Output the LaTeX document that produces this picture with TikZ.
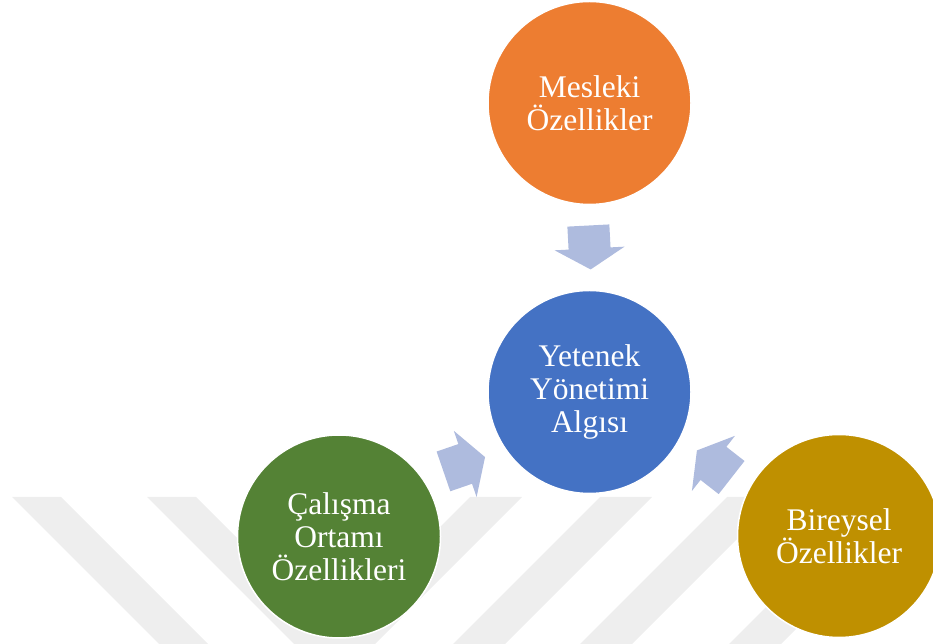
\documentclass[tikz,border=0pt]{standalone}
\usepackage{fontspec}
\setmainfont{Liberation Serif}
\usetikzlibrary{calc}
\definecolor{cOrange}{HTML}{ED7D31}
\definecolor{cBlue}{HTML}{4472C4}
\definecolor{cGreen}{HTML}{548235}
\definecolor{cGold}{HTML}{BF9000}
\definecolor{cArrow}{HTML}{AEBBDE}
\definecolor{cStripe}{HTML}{EEEEEE}
\begin{document}
\begin{tikzpicture}[x=1pt,y=1pt,
  circ/.style={circle, minimum size=203pt, inner sep=0pt, draw=white, line width=1.5pt,
    text=white, align=center, font=\fontsize{31.5}{33}\selectfont},
  stripe/.style={fill=cStripe},
  blockarrow/.style={fill=cArrow}]
\useasboundingbox (0,0) rectangle (933,644);
\clip (0,0) rectangle (933,644);
% watermark stripes
\foreach \a in {12,147}{
  \fill[stripe] (\a,147) -- ++(49,0) -- ++(200,-200) -- ++(-49,0) -- cycle;}
\foreach \a in {470,600,727,876}{
  \fill[stripe] (\a,147) -- ++(52,0) -- ++(-200,-200) -- ++(-52,0) -- cycle;}
% circles
\node[circ, fill=cOrange] (mes) at (589.5,541) {Mesleki\\Özellikler};
\node[circ, fill=cBlue] (alg) at (589.5,252) {Yetenek\\Yönetimi\\Algısı};
\node[circ, fill=cGreen] (cal) at (339,107.5) {Çalışma\\Ortamı\\Özellikleri};
\node[circ, fill=cGold] (bir) at (839,108) {Bireysel\\Özellikler};
% block arrows
\coordinate (a1) at ($(mes)!0.5!(alg)$);
\coordinate (a2) at ($(cal)!0.5!(alg)$);
\coordinate (a3) at ($(bir)!0.5!(alg)$);
\foreach \c/\r in {a1/-87,a2/19,a3/142}{
  \begin{scope}[shift={(\c)}, rotate=\r]
    \fill[blockarrow] (-22,-21) -- (1,-21) -- (1,-35) -- (22,0) -- (1,35) -- (1,21) -- (-22,21) -- cycle;
  \end{scope}}
\end{tikzpicture}
\end{document}
